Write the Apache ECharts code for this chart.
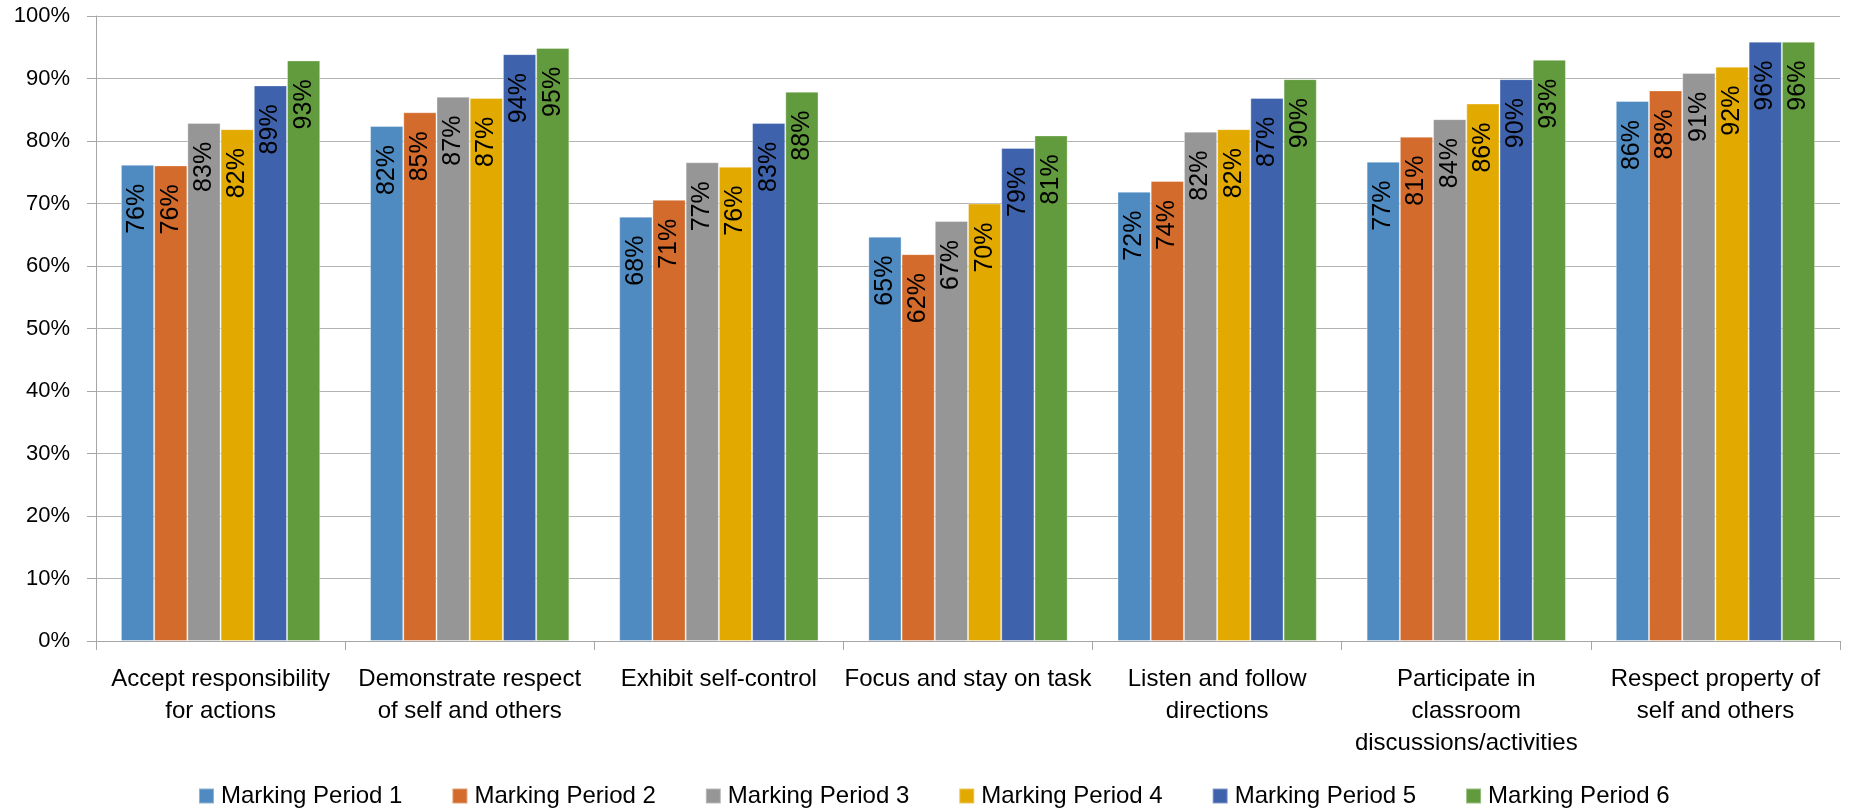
<!DOCTYPE html>
<html>
<head>
<meta charset="utf-8">
<script src="https://cdn.jsdelivr.net/npm/echarts@6/dist/echarts.min.js"></script>
<style>
html,body{margin:0;padding:0;background:#fff;}
#chart{width:1860px;height:812px;}
</style>
</head>
<body>
<div id="chart"></div>
<script>
const categories = [
  'Accept responsibility\nfor actions',
  'Demonstrate respect\nof self and others',
  'Exhibit self-control',
  'Focus and stay on task',
  'Listen and follow\ndirections',
  'Participate in\nclassroom\ndiscussions/activities',
  'Respect property of\nself and others'
];
const seriesNames = ['Marking Period 1','Marking Period 2','Marking Period 3','Marking Period 4','Marking Period 5','Marking Period 6'];
const mp1 = [76.2, 82.4, 67.9, 64.7, 71.9, 76.7, 86.4];
const mp2 = [76.1, 84.6, 70.6, 61.9, 73.6, 80.7, 88.1];
const mp3 = [82.9, 87.1, 76.6, 67.2, 81.5, 83.5, 90.9];
const mp4 = [81.9, 86.9, 75.9, 70.0, 81.9, 86.0, 91.9];
const mp5 = [88.9, 93.9, 82.9, 78.9, 86.9, 89.9, 95.9];
const mp6 = [92.9, 94.9, 87.9, 80.9, 89.9, 93.0, 95.9];
const colors = ['#4F8BC0','#D26B2C','#969696','#E2AA00','#3E63AC','#629B3E'];
const yTicks = {min: 0, max: 100, interval: 10};

const allData = [mp1, mp2, mp3, mp4, mp5, mp6];
const FONT = '"Liberation Sans", Arial, sans-serif';

const chart = echarts.init(document.getElementById('chart'), null, {renderer: 'canvas'});
chart.setOption({
  animation: false,
  color: colors,
  grid: {left: 96, right: 20, top: 16, bottom: 171, containLabel: false},
  legend: {
    data: seriesNames,
    left: 198,
    top: 784,
    padding: 0,
    itemWidth: 15,
    itemHeight: 15,
    itemGap: 49,
    icon: 'rect',
    textStyle: {fontFamily: FONT, fontSize: 24, color: '#000', padding: [0,0,0,2]}
  },
  xAxis: {
    type: 'category',
    data: categories,
    axisLine: {show: true, lineStyle: {color: '#A6A6A6', width: 1}},
    axisTick: {show: true, length: 9, alignWithLabel: false, lineStyle: {color: '#A6A6A6'}},
    axisLabel: {fontFamily: FONT, fontSize: 24, color: '#000', margin: 22, lineHeight: 32, interval: 0}
  },
  yAxis: {
    type: 'value',
    min: yTicks.min,
    max: yTicks.max,
    interval: yTicks.interval,
    axisLine: {show: true, lineStyle: {color: '#A6A6A6', width: 1}},
    axisTick: {show: true, length: 9, lineStyle: {color: '#A6A6A6'}},
    splitLine: {show: true, lineStyle: {color: '#B3B3B3', width: 1}},
    axisLabel: {fontFamily: FONT, fontSize: 22, color: '#000', margin: 26, formatter: '{value}%'}
  },
  series: seriesNames.map((name, i) => ({
    name: name,
    type: 'bar',
    data: allData[i],
    barGap: '0%',
    barCategoryGap: '20%',
    itemStyle: {color: colors[i], borderColor: 'rgba(255,255,255,0.35)', borderWidth: 1},
    label: {
      show: true,
      position: 'insideTop',
      distance: 19,
      rotate: 90,
      align: 'right',
      verticalAlign: 'middle',
      fontFamily: FONT,
      fontSize: 25,
      color: '#000',
      formatter: p => Math.round(p.value) + '%'
    }
  }))
});
</script>
</body>
</html>
